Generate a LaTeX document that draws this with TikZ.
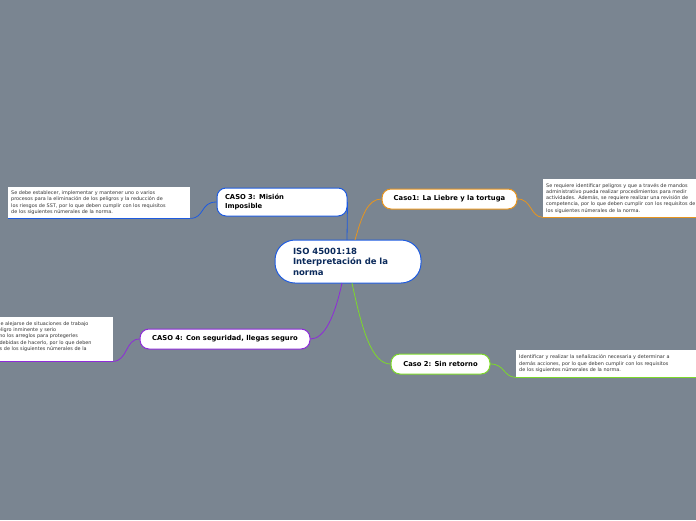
\documentclass[tikz,border=0pt]{standalone}
\usepackage{fontspec}
\setmainfont{DejaVu Sans}
\definecolor{bg}{HTML}{7A8591}
\definecolor{navy}{HTML}{0B2A5B}
\definecolor{cblue}{HTML}{1E5BE0}
\definecolor{corange}{HTML}{E8951E}
\definecolor{cpurple}{HTML}{8E2BD9}
\definecolor{cgreen}{HTML}{7DD92A}
\definecolor{ctext}{HTML}{333333}
\tikzset{
  topic/.style = {draw, line width=1pt, fill=white, rounded corners=9pt, font=\bfseries\fontsize{6.8}{8.3}\selectfont, inner sep=0pt, align=left},
  note/.style = {fill=white, anchor=north west, align=left, inner sep=3pt, font=\fontsize{4.9}{6.3}\selectfont, text=ctext},
  link/.style = {line width=0.8pt}
}
\begin{document}
\begin{tikzpicture}[x = 1pt, y = -1pt]
\useasboundingbox (0, 0) rectangle (696, 520);
\clip (0, 0) rectangle (696, 520);
\fill[bg] (0, 0) rectangle (696, 520);
% Central topic
\node[topic, draw=cblue, rounded corners=20pt, minimum width=146pt, minimum height=43pt, text=navy, font=\bfseries\fontsize{8.5}{10.5}\selectfont, text width=110pt] (iso) at (348, 261.5) {ISO 45001:18\\Interpretación de la\\norma};
% Topics
\node[topic, draw=cblue, minimum width=130pt, minimum height=28pt, text width=114pt] (caso3) at (282, 202) {CASO 3: Misión\\Imposible};
\node[topic, draw=corange, minimum width=135pt, minimum height=20pt, align=center] (caso1) at (449.5, 199) {Caso1: La Liebre y la tortuga};
\node[topic, draw=cpurple, minimum width=170pt, minimum height=20pt, align=center] (caso4) at (225, 339) {CASO 4: Con seguridad, llegas seguro};
\node[topic, draw=cgreen, minimum width=99pt, minimum height=20pt, align=center] (caso2) at (440.5, 364) {Caso 2: Sin retorno};
% Notes
\node[note, text width=176pt, minimum height=31pt] (n3) at (8, 187) {Se debe establecer, implementar y mantener uno o varios\\procesos para la eliminación de los peligros y la reducción de\\los riesgos de SST, por lo que deben cumplir con los requisitos\\de los siguientes númerales de la norma.};
\draw[cblue, line width=1.5pt] (n3.south west) -- (n3.south east);
\node[note, text width=200pt, minimum height=38pt] (n1) at (543, 179) {Se requiere identificar peligros y que a través de mandos\\administrativo pueda realizar procedimientos para medir\\actividades. Además, se requiere realizar una revisión de\\competencia, por lo que deben cumplir con los requisitos de\\los siguientes númerales de la norma.};
\draw[corange, line width=1.5pt] (n1.south west) -- (n1.south east);
\node[note, text width=180pt, minimum height=27pt] (n2) at (516, 350) {Identificar y realizar la señalización necesaria y determinar a\\demás acciones, por lo que deben cumplir con los requisitos\\de los siguientes númerales de la norma.};
\draw[cgreen, line width=1.5pt] (n2.south west) -- (n2.south east);
\node[note, anchor=north east, text width=160pt, minimum height=44pt] (n4) at (113, 317) {Tener la capacidad de alejarse de situaciones de trabajo\\que presentan un peligro inminente y serio\\para su vida, así como los arreglos para protegerles\\de consecuencias indebidas de hacerlo, por lo que deben\\cumplir los requisitos de los siguientes númerales de la\\norma.};
\draw[cpurple, line width=1.5pt] (n4.south west) -- (n4.south east);
% Connectors
\draw[link, cblue] (caso3.east) -- (347, 240);
\draw[link, corange] (355, 240) .. controls (362, 215) and (368, 199) .. (caso1.west);
\draw[link, cpurple] (342, 283) .. controls (335, 315) and (325, 339) .. (caso4.east);
\draw[link, cgreen] (352, 283) .. controls (362, 330) and (372, 364) .. (caso2.west);
\draw[link, cblue] (caso3.west) .. controls (200, 202) and (205, 218) .. (n3.south east);
\draw[link, corange] (caso1.east) .. controls (532, 199) and (530, 217) .. (n1.south west);
\draw[link, cgreen] (caso2.east) .. controls (505, 364) and (503, 377) .. (n2.south west);
\draw[link, cpurple] (caso4.west) .. controls (125, 339) and (128, 361) .. (n4.south east);
\end{tikzpicture}
\end{document}
